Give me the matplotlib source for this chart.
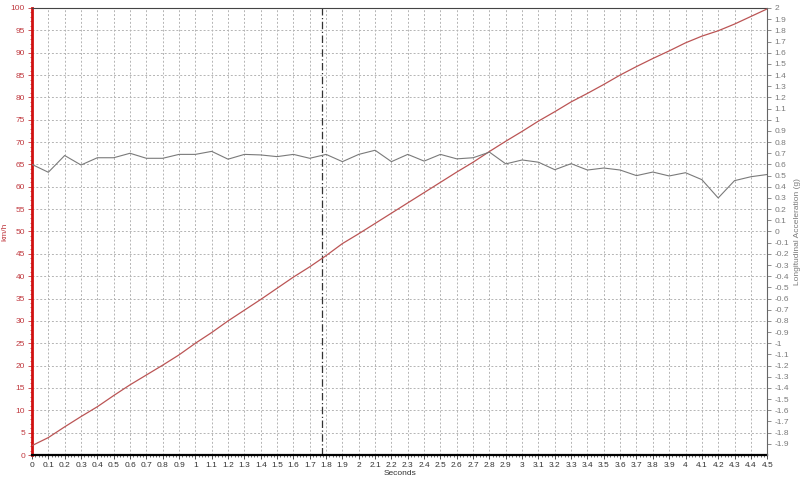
import numpy as np
import matplotlib
matplotlib.use("Agg")
import matplotlib.pyplot as plt

plt.rcParams['font.family'] = ['Liberation Sans', 'DejaVu Sans']

t = np.round(np.arange(0, 4.51, 0.1), 1)

speed = [2.1, 3.9, 6.3, 8.6, 10.8, 13.3, 15.7, 17.9, 20.1, 22.4,
         25.0, 27.4, 30.0, 32.4, 34.8, 37.3, 39.8, 42.1, 44.6, 47.3,
         49.5, 51.8, 54.1, 56.4, 58.7, 61.0, 63.3, 65.5, 67.9, 70.2,
         72.4, 74.7, 76.8, 79.0, 80.9, 82.9, 85.0, 86.9, 88.7, 90.4,
         92.2, 93.7, 94.9, 96.4, 98.1, 99.8]

accel = [0.60, 0.53, 0.68, 0.595, 0.66, 0.66, 0.70, 0.655, 0.655, 0.69,
         0.69, 0.717, 0.647, 0.69, 0.685, 0.67, 0.69, 0.655, 0.69, 0.625,
         0.69, 0.727, 0.625, 0.69, 0.63, 0.69, 0.65, 0.66, 0.71, 0.605,
         0.64, 0.62, 0.553, 0.607, 0.55, 0.568, 0.55, 0.50, 0.532, 0.497,
         0.526, 0.464, 0.30, 0.455, 0.49, 0.51]

cursor_t = 1.776

fig = plt.figure(figsize=(8, 4.84), dpi=100)
ax = fig.add_axes([0.04, 0.0599, 0.919, 0.9236])
ax2 = ax.twinx()

red = '#c0393f'
grey = '#7a7a7a'

ax.plot(t, speed, '-', color='#bb5555', lw=0.9, zorder=3)
ax2.plot(t, accel, '-', color=grey, lw=0.8)
ax.axvline(cursor_t, color='#333333', lw=0.9, ls=(0, (6, 2, 1, 2)))

ax.set_xlim(0, 4.5)
ax.set_ylim(0, 100)
ax2.set_ylim(-2, 2)

xt = np.round(np.arange(0, 4.51, 0.1), 1)
ax.set_xticks(xt)
ax.set_xticklabels(['%g' % v for v in xt])
ax.set_xticks(np.arange(0, 4.5, 0.02), minor=True)
ax.set_yticks(np.arange(0, 101, 5))
ax.set_yticks(np.arange(0, 100, 1), minor=True)
ax2.set_yticks(np.round(np.arange(-1.9, 2.01, 0.1), 1))
ax2.set_yticklabels(['%g' % v for v in np.round(np.arange(-1.9, 2.01, 0.1), 1)])

ax.grid(True, which='major', color='#b4b4b4', ls=(0, (2, 2)), lw=0.7)

ax.tick_params(axis='x', labelsize=6, colors='#333333', length=3, width=0.6, pad=2)
ax.tick_params(axis='x', which='minor', length=1.5, width=0.5, colors='#333333')
ax.tick_params(axis='y', labelsize=6, colors=red, labelcolor=red, length=3, width=0.6, pad=2)
ax.tick_params(axis='y', which='minor', length=1.5, width=0.5, colors=red)
ax2.tick_params(axis='y', labelsize=6, colors=grey, labelcolor=grey, length=3, width=0.6, pad=2)

ax.spines['left'].set_color('#d01010')
ax.spines['left'].set_linewidth(2)
ax.spines['bottom'].set_color('black')
ax.spines['bottom'].set_linewidth(1.6)
ax.spines['top'].set_color('#444444')
ax.spines['top'].set_linewidth(0.8)
for s in ['left', 'bottom', 'top']:
    ax2.spines[s].set_visible(False)
ax.spines['right'].set_visible(False)
ax2.spines['right'].set_color('#666666')
ax2.spines['right'].set_linewidth(0.8)

ax.set_xlabel('Seconds', fontsize=6, color='#333333', labelpad=1)
ax.set_ylabel('km/h', fontsize=6, color=red, labelpad=2)
ax2.set_ylabel('Longitudinal Acceleration (g)', fontsize=6, color=grey, labelpad=4)

fig.savefig('out.png', dpi=100)
